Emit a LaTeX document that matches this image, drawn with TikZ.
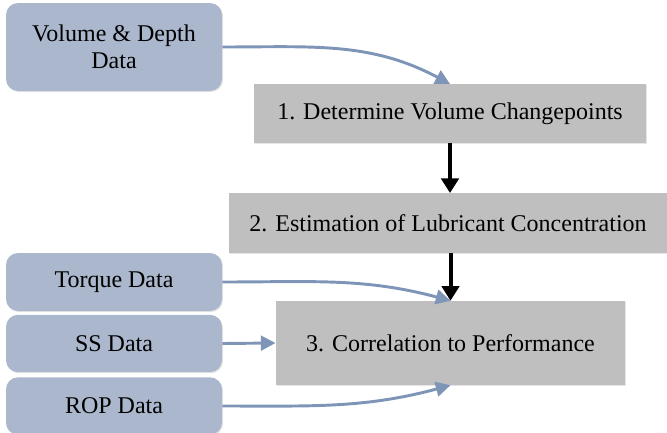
\documentclass[tikz,border=0pt]{standalone}
\usepackage{fontspec}
\setmainfont{Liberation Serif}
\usepackage{tikz}
\usetikzlibrary{arrows.meta,shadows}

\definecolor{databox}{RGB}{170,183,205}
\definecolor{dataarrow}{RGB}{127,149,183}
\definecolor{stepgray}{RGB}{191,191,191}

\begin{document}
\begin{tikzpicture}[x=0.75pt, y=-0.75pt,
	every node/.style={font=\fontsize{18}{20.5}\selectfont},
	datanode/.style={rounded corners=9pt, fill=databox, minimum width=162pt, align=center, inner sep=0pt,
		drop shadow={opacity=0.2, shadow xshift=0.8pt, shadow yshift=-0.8pt}},
	stepnode/.style={fill=stepgray, inner sep=0pt,
		drop shadow={opacity=0.2, shadow xshift=0.8pt, shadow yshift=-0.8pt}},
	dataflow/.style={draw=dataarrow, line width=2.2pt, -{Triangle[length=11pt, width=11pt]}},
	stepflow/.style={draw=black, line width=3pt, -{Triangle[length=11pt, width=13pt]}}]
	\useasboundingbox (0,0) rectangle (667,432);
	\node[datanode, minimum height=66pt] (vol) at (114,47) {Volume \& Depth\\Data};
	\node[datanode, minimum height=43.5pt] (torque) at (114,282) {Torque Data};
	\node[datanode, minimum height=43pt] (ss) at (114,343.5) {SS Data};
	\node[datanode, minimum height=43pt] (rop) at (114,406) {ROP Data};
	\node[stepnode, minimum width=294pt, minimum height=44pt] (s1) at (450,113.5) {1. Determine Volume Changepoints};
	\node[stepnode, minimum width=328pt, minimum height=44.5pt] (s2) at (448,223) {2. Estimation of Lubricant Concentration};
	\node[stepnode, minimum width=262pt, minimum height=63pt] (s3) at (450.5,343) {3. Correlation to Performance};
	\draw[dataflow] (vol.east) to[out=0, in=152] (s1.north);
	\draw[dataflow] (torque.east) to[out=0, in=165] (s3.north);
	\draw[dataflow] (ss.east) -- (s3.west);
	\draw[dataflow] (rop.east) to[out=0, in=195] (s3.south);
	\draw[stepflow] (s1.south) -- (s1.south |- s2.north);
	\draw[stepflow] (s2.south -| s3.north) -- (s3.north);
\end{tikzpicture}
\end{document}
